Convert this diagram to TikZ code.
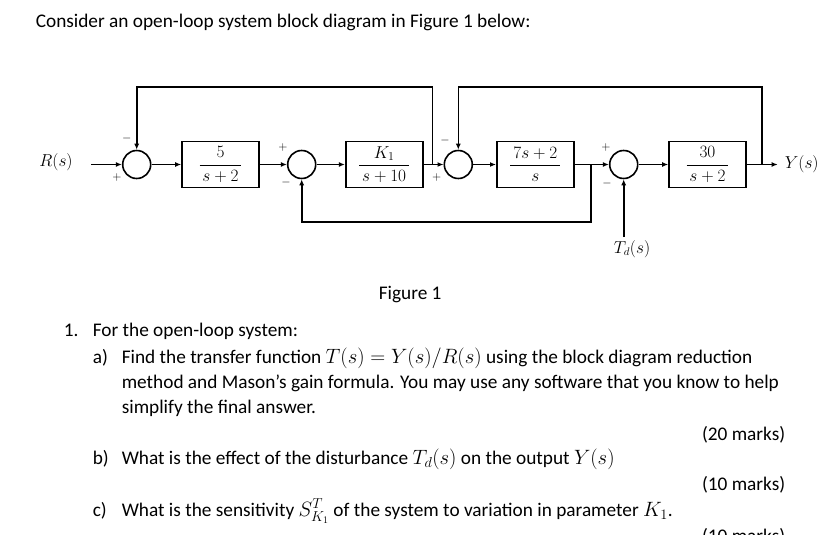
\documentclass[tikz,border=0pt]{standalone}
\usepackage[no-math]{fontspec}
\setmainfont{Carlito}
\usetikzlibrary{arrows.meta,calc}
\begin{document}
\begin{tikzpicture}[x=1pt,y=-1pt,
  line width=1.6pt,
  sumj/.style={circle,draw,minimum size=28pt,inner sep=0pt},
  blk/.style={draw,minimum width=77pt,minimum height=46pt,inner sep=0pt,font=\fontsize{17.5}{19}\selectfont},
  arr/.style={-{Latex[length=6pt,width=5pt]}},
  sgn/.style={font=\fontsize{12}{12}\selectfont,inner sep=0pt},
  sig/.style={font=\fontsize{16}{19}\selectfont,inner sep=0pt},
  txt/.style={anchor=base west,inner sep=0pt,font=\fontsize{19.3}{23}\selectfont},
  mk/.style={anchor=base east,inner sep=0pt,font=\fontsize{19.3}{23}\selectfont},
  ]
\useasboundingbox (0,0) rectangle (820,535);
\clip (0,0) rectangle (820,535);

% blocks and junctions
\node[sumj] (s1) at (136.7,164.5) {};
\node[blk] (g1) at (220.5,164.5) {$\displaystyle\frac{5}{\,s+2\,}$};
\node[sumj] (s2) at (301.7,164.5) {};
\node[blk] (g2) at (384.2,164.5) {$\displaystyle\frac{K_1}{\,s+10\,}$};
\node[sumj] (s3) at (458.3,164.5) {};
\node[blk] (g3) at (535.3,164.5) {$\displaystyle\frac{\,7s+2\,}{s}$};
\node[sumj] (s4) at (623.7,164.5) {};
\node[blk] (g4) at (707.5,164.5) {$\displaystyle\frac{30}{\,s+2\,}$};

\coordinate (in) at (91,164.5);
\coordinate (b1) at (432.3,164.5);
\coordinate (t1) at (432.3,87);
\coordinate (b2) at (591,164.5);
\coordinate (d2) at (591,221.7);
\coordinate (b3) at (761.7,164.5);
\coordinate (t3) at (761.7,87);
\coordinate (out) at (777.7,164.5);
\coordinate (td) at (623.7,237);

\node[sig,font=\fontsize{19}{22}\selectfont] (R) at (56,162) {$R(s)$};
\node[sig,anchor=west] (Y) at (784,164.5) {$Y(s)$};
\node[sig] (Td) at (632,249) {$T_d(s)$};

% connectors
\draw[arr] (in) -- (s1);
\draw[arr] (s1) -- (g1);
\draw[arr] (g1) -- (s2);
\draw[arr] (s2) -- (g2);
\draw[arr] (g2) -- (s3);
\draw[arr] (s3) -- (g3);
\draw[arr] (g3) -- (s4);
\draw[arr] (s4) -- (g4);
\draw[arr] (g4) -- (out);
\draw[arr] (b1) -- (t1) -| (s1.north);
\draw[arr] (b3) -- (t3) -| (s3.north);
\draw[arr] (b2) -- (d2) -| (s2.south);
\draw[arr] (td) -- (s4.south);

% signs
\node[sgn] (m1) at (126.7,139) {$-$};
\node[sgn] (p1) at (117,177) {$+$};
\node[sgn] (p2) at (283,147) {$+$};
\node[sgn] (m2) at (286,182) {$-$};
\node[sgn] (m3) at (445,140) {$-$};
\node[sgn] (p3) at (436.7,177) {$+$};
\node[sgn] (p4) at (606,147) {$+$};
\node[sgn] (m4) at (607,183) {$-$};

% text
\node[txt] (title) at (35,28) {Consider an open-loop system block diagram in Figure 1 below:};
\node[txt] (fig) at (378,299) {Figure 1};
\node[txt] (n1) at (63,336) {1.};
\node[txt] (q1) at (92,336) {For the open-loop system:};
\node[txt] (la) at (92,363) {a)};
\node[txt] (qa1) at (121,363) {Find the transfer function $T(s)=Y(s)/R(s)$ using the block diagram reduction};
\node[txt] (qa2) at (121,388) {method and Mason’s gain formula. You may use any software that you know to help};
\node[txt] (qa3) at (121,413) {simplify the final answer.};
\node[mk] (ma) at (786,440) {(20 marks)};
\node[txt] (lb) at (92,464) {b)};
\node[txt] (qb) at (121,464) {What is the effect of the disturbance $T_d(s)$ on the output $Y(s)$};
\node[mk] (mb) at (786,490) {(10 marks)};
\node[txt] (lc) at (92,516) {c)};
\node[txt] (qc) at (121,516) {What is the sensitivity $S^T_{K_1}$ of the system to variation in parameter $K_1$.};
\node[mk] (mc) at (786,542) {(10 marks)};
\end{tikzpicture}
\end{document}
